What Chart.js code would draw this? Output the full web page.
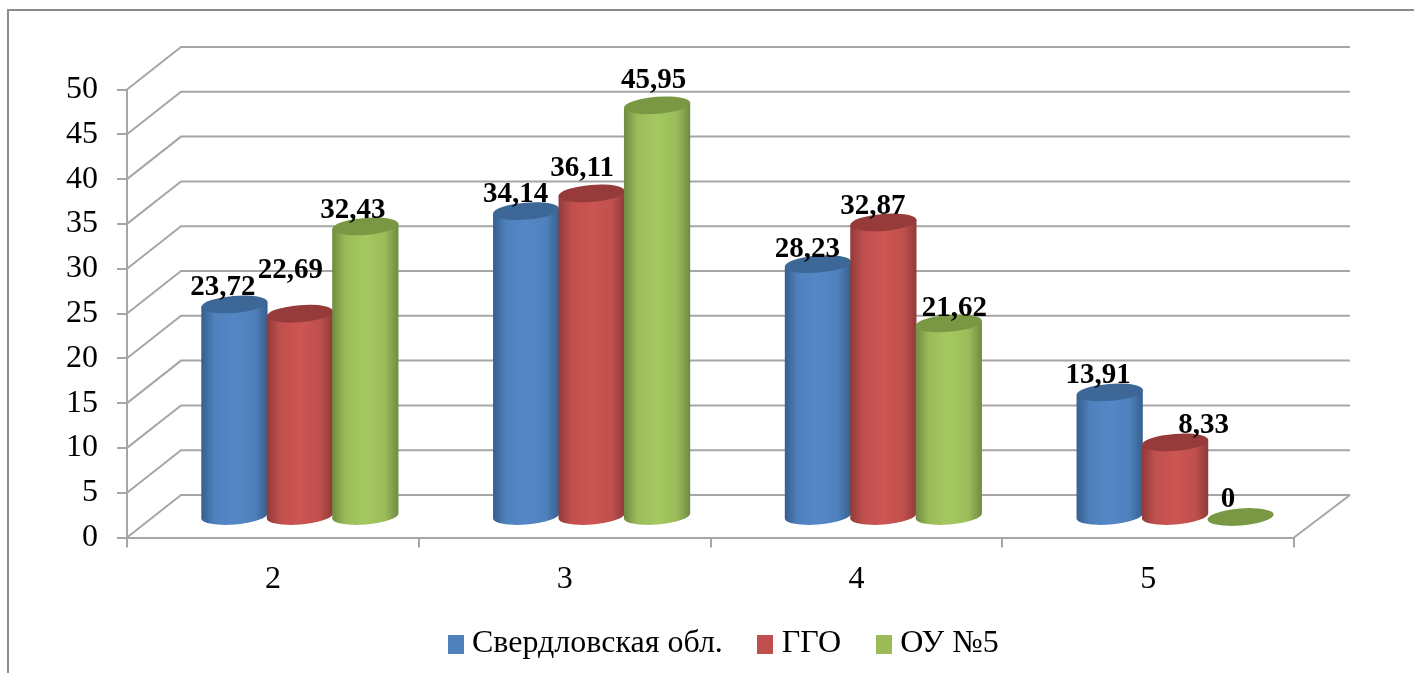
<!DOCTYPE html>
<html><head><meta charset="utf-8">
<style>html,body{margin:0;padding:0;background:#fff}canvas{display:block;filter:blur(0.5px)}</style>
<script src="https://cdn.jsdelivr.net/npm/chart.js@4"></script></head>
<body><canvas id="c" width="1414" height="673"></canvas>
<script>
const categories = ['2','3','4','5'];
const seriesNames = ['Свердловская обл.','ГГО','ОУ №5'];
const sverdlovsk = [23.72,34.14,28.23,13.91];
const ggo = [22.69,36.11,32.87,8.33];
const ou5 = [32.43,45.95,21.62,0];
const seriesColors = ['#4F81BD','#C0504D','#9BBB59'];
const bodyCenter = ['#5487c6','#cd5552','#a5c961'];
const bodyEdge = ['#355f8e','#8e3b39','#6f8a41'];
const capColors = ['#3c6796','#963b39','#7a9843'];

// 3D look and hand-placed label nudges
const WALL_DX = 54, WALL_DX_RIGHT = 56, WALL_DY = 42.5, BAR_DX = 27, BAR_DY = 20.5, CAP_RY = 8.5, CAP_TILT = -0.08;
const labelNudges = [
  [[-11.5,-9],[-10.5,-9],[-10.5,-7],[-11.5,-9]],
  [[-9.5,-36],[-9.5,-17],[-10.5,-8],[28.5,-9]],
  [[-12.5,-8],[-3.5,-17],[5.5,-7],[-12.5,-10]]
];
const GRID = '#a6a6a6';
const FONT = '"Liberation Serif", "Times New Roman", serif';

function swatch(color){
  const s = document.createElement('canvas'); s.width = 16; s.height = 19;
  const g = s.getContext('2d'); g.fillStyle = color; g.fillRect(0,0,16,19);
  return s;
}
const swatches = seriesColors.map(swatch);

const look3d = {
  id:'look3d',
  beforeDraw(chart){
    const c = chart.ctx; c.save();
    c.strokeStyle = '#8c8c8c'; c.lineWidth = 2;
    c.beginPath(); c.moveTo(8,673); c.lineTo(8,10); c.lineTo(1414,10); c.stroke();
    c.restore();
  },
  afterLayout(chart){
    const l = chart.legend;
    l.left = 413; l.right = 1414; l.top = 586; l.bottom = 673;
  },
  beforeDatasetsDraw(chart){
    const c = chart.ctx, y = chart.scales.y, a = chart.chartArea;
    c.save();
    c.strokeStyle = GRID; c.lineWidth = 2;
    y.ticks.forEach(t=>{
      const py = y.getPixelForValue(t.value);
      c.beginPath(); c.moveTo(a.left,py); c.lineTo(a.left+WALL_DX,py-WALL_DY); c.lineTo(a.right+WALL_DX_RIGHT,py-WALL_DY); c.stroke();
    });
    const p0 = y.getPixelForValue(0);
    c.beginPath(); c.moveTo(a.right,p0); c.lineTo(a.right+WALL_DX_RIGHT,p0-WALL_DY); c.stroke();
    chart.data.datasets.forEach((ds,di)=>{
      chart.getDatasetMeta(di).data.forEach(bar=>{
        const rx = bar.width/2+0.5, cx = bar.x+BAR_DX, top = bar.y-BAR_DY, base = bar.base-BAR_DY;
        const sx = Math.cos(CAP_TILT)*rx, sy = Math.sin(CAP_TILT)*rx;
        if (base-top > 1){
          const g = c.createLinearGradient(cx-rx,0,cx+rx,0);
          g.addColorStop(0,bodyEdge[di]); g.addColorStop(0.2,seriesColors[di]);
          g.addColorStop(0.5,bodyCenter[di]); g.addColorStop(0.8,seriesColors[di]); g.addColorStop(1,bodyEdge[di]);
          c.fillStyle = g;
          c.beginPath();
          c.moveTo(cx-sx,top-sy); c.lineTo(cx-sx,base-sy);
          c.ellipse(cx,base,rx,CAP_RY,CAP_TILT,Math.PI,0,true);
          c.lineTo(cx+sx,top+sy); c.closePath(); c.fill();
        }
        c.fillStyle = capColors[di];
        c.beginPath(); c.ellipse(cx,top,rx,CAP_RY,CAP_TILT,0,Math.PI*2); c.fill();
      });
    });
    c.restore();
    return false;
  },
  afterDraw(chart){
    const c = chart.ctx; c.save();
    c.fillStyle = '#000'; c.font = 'bold 29px '+FONT; c.textAlign = 'center'; c.textBaseline = 'alphabetic';
    chart.data.datasets.forEach((ds,di)=>{
      chart.getDatasetMeta(di).data.forEach((bar,i)=>{
        const n = labelNudges[di][i];
        c.fillText(String(ds.data[i]).replace('.',','), bar.x+BAR_DX+n[0], bar.y-BAR_DY+n[1]);
      });
    });
    c.restore();
  }
};

new Chart(document.getElementById('c'),{
  type:'bar',
  data:{labels:categories,datasets:[
    {label:seriesNames[0],data:sverdlovsk,backgroundColor:seriesColors[0]},
    {label:seriesNames[1],data:ggo,backgroundColor:seriesColors[1]},
    {label:seriesNames[2],data:ou5,backgroundColor:seriesColors[2]}
  ]},
  plugins:[look3d],
  options:{
    responsive:false,animation:false,
    layout:{padding:{left:0,right:120,top:89.5,bottom:0}},
    datasets:{bar:{barPercentage:1,categoryPercentage:0.673}},
    scales:{
      x:{
        grid:{drawOnChartArea:false,offset:true,color:GRID,lineWidth:2,tickLength:10},
        border:{color:GRID,width:2},
        ticks:{color:'#000',font:{family:FONT,size:32},padding:13,maxRotation:0},
        afterFit(s){s.height = 135.5-((s.chart.legend&&s.chart.legend.height)||116);}
      },
      y:{
        min:0,max:50,
        grid:{drawOnChartArea:false,color:GRID,lineWidth:2,tickLength:10},
        border:{color:GRID,width:2},
        ticks:{stepSize:5,color:'#000',font:{family:FONT,size:32},padding:19},
        afterFit(s){s.width = 127;}
      }
    },
    plugins:{
      tooltip:{enabled:false},
      legend:{
        position:'bottom',align:'start',
        labels:{
          usePointStyle:true,pointStyleWidth:1,padding:42,color:'#000',
          font:{family:FONT,size:32},
          generateLabels(chart){
            return Chart.defaults.plugins.legend.labels.generateLabels(chart)
              .map((it,i)=>Object.assign(it,{pointStyle:swatches[i]}));
          }
        }
      }
    }
  }
});
</script></body></html>
